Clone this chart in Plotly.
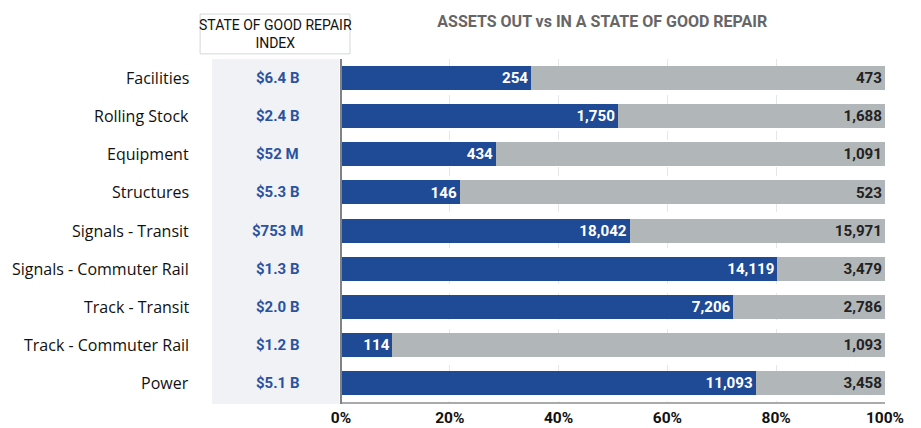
import plotly.graph_objs as go

# Asset categories (top to bottom) and values
categories = ["Facilities", "Rolling Stock", "Equipment", "Structures", "Signals - Transit",
              "Signals - Commuter Rail", "Track - Transit", "Track - Commuter Rail", "Power"]
sgr_index = ["$6.4 B", "$2.4 B", "$52 M", "$5.3 B", "$753 M", "$1.3 B", "$2.0 B", "$1.2 B", "$5.1 B"]
assets_out = [254, 1750, 434, 146, 18042, 14119, 7206, 114, 11093]
assets_in = [473, 1688, 1091, 523, 15971, 3479, 2786, 1093, 3458]
tick_vals = [0, 20, 40, 60, 80, 100]
tick_text = ["0%", "20%", "40%", "60%", "80%", "100%"]

NUMFONT = "Roboto, Liberation Sans, sans-serif"
BLUE = "#1F4A96"
GREY = "#B1B6B9"

totals = [o + i for o, i in zip(assets_out, assets_in)]
pct_out = [o / t * 100 for o, t in zip(assets_out, totals)]
pct_in = [i / t * 100 for i, t in zip(assets_in, totals)]

fig = go.Figure()

fig.add_trace(go.Bar(
    y=categories, x=pct_out, orientation="h",
    marker=dict(color=BLUE, line=dict(width=0)),
    customdata=assets_out, texttemplate="%{customdata:,}",
    textposition="inside", insidetextanchor="end",
    textfont=dict(family=NUMFONT, size=16, color="white", weight="bold"),
))
fig.add_trace(go.Bar(
    y=categories, x=pct_in, orientation="h",
    marker=dict(color=GREY, line=dict(width=0)),
    customdata=assets_in, texttemplate="%{customdata:,}",
    textposition="inside", insidetextanchor="end",
    textfont=dict(family=NUMFONT, size=16, color="#222222", weight="bold"),
))

# grey panel behind the index column
fig.add_shape(type="rect", xref="paper", yref="paper",
              x0=-0.237, x1=-0.003, y0=-0.006, y1=1.0,
              fillcolor="#F0F2F5", line=dict(width=0), layer="below")
# header box
fig.add_shape(type="rect", xref="paper", yref="paper",
              x0=-0.259, x1=0.0165, y0=1.015, y1=1.131,
              fillcolor="white", line=dict(color="#D4D6D9", width=1))
fig.add_annotation(xref="paper", yref="paper", x=-0.121, y=1.073,
                   xanchor="center", yanchor="middle",
                   text="STATE OF GOOD REPAIR<br>INDEX", showarrow=False,
                   font=dict(family=NUMFONT, size=14, color="#111111"))
# left axis line
fig.add_shape(type="line", xref="paper", yref="paper", x0=0, x1=0, y0=-0.006, y1=1.0,
              line=dict(color="#808285", width=2))

for cat, idx in zip(categories, sgr_index):
    fig.add_annotation(xref="paper", yref="y", x=-0.276, y=cat, text=cat,
                       showarrow=False, xanchor="right",
                       font=dict(family="Open Sans, sans-serif", size=16, color="#111111"))
    fig.add_annotation(xref="paper", yref="y", x=-0.116, y=cat, text=idx,
                       showarrow=False, xanchor="center",
                       font=dict(family=NUMFONT, size=15, color="#2A52A0", weight="bold"))

fig.update_layout(
    width=921, height=428,
    margin=dict(l=341, r=36, t=59, b=26, autoexpand=False),
    barmode="stack", bargap=0.37,
    showlegend=False,
    plot_bgcolor="white", paper_bgcolor="white",
    title=dict(text="<b>ASSETS OUT vs IN A STATE OF GOOD REPAIR</b>",
               x=0.654, xanchor="center", y=0.951, yanchor="middle",
               font=dict(family=NUMFONT, size=16, color="#666666")),
    xaxis=dict(
        range=[0, 100], tickvals=tick_vals, ticktext=tick_text,
        showgrid=True, gridcolor="#E4E6E8", griddash="dash", gridwidth=1,
        showline=True, linecolor="#A8AAAC", linewidth=2,
        zeroline=False, ticks="", automargin=False,
        tickfont=dict(family=NUMFONT, size=15.5, color="#111111", weight="bold"),
    ),
    yaxis=dict(
        autorange="reversed", showticklabels=False, showgrid=False,
        zeroline=False, showline=False, automargin=False,
    ),
)

fig.write_html("out.html", config={"displayModeBar": False},
               post_script="document.body.style.margin='0px';")
